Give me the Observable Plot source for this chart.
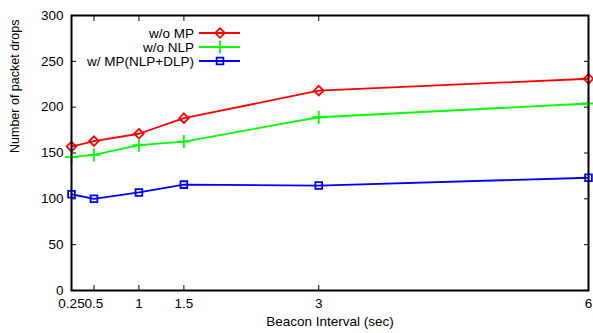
<!DOCTYPE html>
<html>
<head>
<meta charset="utf-8">
<script src="https://cdn.jsdelivr.net/npm/d3@7"></script>
<script src="https://cdn.jsdelivr.net/npm/@observablehq/plot@0.6"></script>
<style>
  body { margin: 0; background: #fff; }
  svg { display: block; }
</style>
</head>
<body>
<div id="chart"></div>
<script>
// Beacon interval (seconds) on the x axis
const intervals = [0.25, 0.5, 1, 1.5, 3, 6];

// Number of packet drops per scheme
const woMP = [157, 163, 171, 188, 218, 231];
const woNLP = [145.5, 148, 158.5, 162.5, 189, 204];
const wMP = [105, 100, 107, 115.5, 114.5, 123];

const seriesNames = ["w/o MP", "w/o NLP", "w/ MP(NLP+DLP)"];
const seriesColors = ["#ff0000", "#00ff00", "#0000ff"];
const seriesSymbols = ["diamond2", "plus", "square2"];

const xTicks = [0.25, 0.5, 1, 1.5, 3, 6];
const yTicks = [0, 50, 100, 150, 200, 250, 300];

const xLabel = "Beacon Interval (sec)";
const yLabel = "Number of packet drops";

const seriesValues = [woMP, woNLP, wMP];
const rows = seriesNames.flatMap((name, s) =>
  intervals.map((x, i) => ({series: name, x, y: seriesValues[s][i]}))
);

const font = "'Liberation Sans', Arial, Helvetica, sans-serif";
const dotR = 4.3;
const lineW = 1.8;

const chart = Plot.plot({
  width: 593,
  height: 333,
  marginLeft: 71,
  marginRight: 5,
  marginTop: 15,
  marginBottom: 43,
  style: {fontFamily: font, fontSize: "13.5px", background: "#fff", color: "#000"},
  x: {domain: [0.25, 6]},
  y: {domain: [0, 300]},
  color: {domain: seriesNames, range: seriesColors},
  symbol: {domain: seriesNames, range: seriesSymbols},
  marks: [
    // tick labels
    Plot.axisY({ticks: yTicks, anchor: "left", tickSize: 0, tickPadding: 8, label: null}),
    Plot.axisX({ticks: xTicks, anchor: "bottom", tickSize: 0, tickPadding: 8, tickFormat: d => String(d), label: null}),
    // inward tick marks on all four sides
    Plot.axisY({ticks: yTicks, anchor: "left", tickSize: -5, tickFormat: () => "", label: null}),
    Plot.axisY({ticks: yTicks, anchor: "right", tickSize: -5, tickFormat: () => "", label: null}),
    Plot.axisX({ticks: xTicks, anchor: "bottom", tickSize: -5, tickFormat: () => "", label: null}),
    Plot.axisX({ticks: xTicks, anchor: "top", tickSize: -5, tickFormat: () => "", label: null}),
    // axis titles
    Plot.text([xLabel], {frameAnchor: "bottom", text: d => d, dy: 35, fontSize: 13.5}),
    Plot.text([yLabel], {frameAnchor: "left", text: d => d, rotate: -90, dx: -57, fontSize: 12.5}),
    // series
    Plot.line(rows, {x: "x", y: "y", z: "series", stroke: "series", strokeWidth: lineW}),
    Plot.dot(rows, {x: "x", y: "y", stroke: "series", symbol: "series", r: dotR, strokeWidth: lineW, fill: "none"}),
    Plot.frame({stroke: "#000", strokeWidth: 2})
  ]
});

document.getElementById("chart").appendChild(chart);

// Legend in the upper-left corner of the plot area
const svg = d3.select(chart);
const legend = svg.append("g").attr("font-family", font).attr("font-size", 13.5);
const symbolTypes = [d3.symbolDiamond2, d3.symbolPlus, d3.symbolSquare2];
seriesNames.forEach((name, i) => {
  const yPos = 33 + i * 14;
  legend.append("text")
    .attr("x", 194).attr("y", yPos).attr("dy", "0.35em")
    .attr("text-anchor", "end").attr("fill", "#000")
    .text(name);
  legend.append("line")
    .attr("x1", 199).attr("x2", 240).attr("y1", yPos).attr("y2", yPos)
    .attr("stroke", seriesColors[i]).attr("stroke-width", lineW);
  legend.append("path")
    .attr("transform", `translate(220,${yPos})`)
    .attr("d", d3.symbol(symbolTypes[i], dotR * dotR * Math.PI)())
    .attr("fill", "none").attr("stroke", seriesColors[i]).attr("stroke-width", lineW);
});
</script>
</body>
</html>
